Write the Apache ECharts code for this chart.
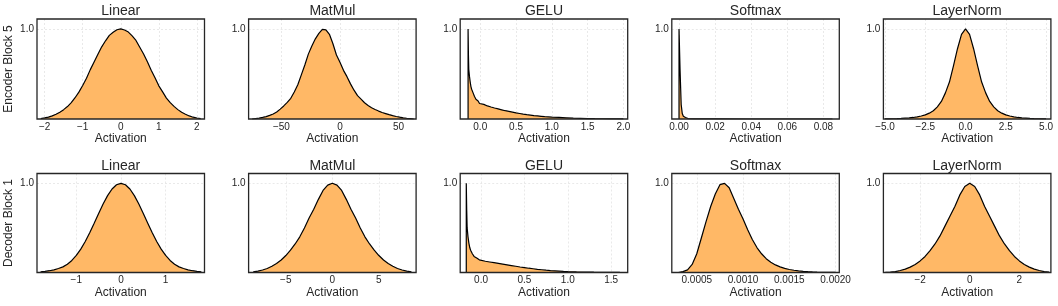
<!DOCTYPE html>
<html><head><meta charset="utf-8">
<script src="https://cdn.jsdelivr.net/npm/echarts@6/dist/echarts.min.js"></script>
<style>html,body{margin:0;padding:0;background:#fff}#c{width:1058px;height:306px}</style>
</head><body><div id="c"></div>
<script>
// ---------------- DATA ----------------
const rowLabels = ['Encoder Block 5', 'Decoder Block 1'];
const layerNames = ['Linear', 'MatMul', 'GELU', 'Softmax', 'LayerNorm'];
const xAxisName = 'Activation';
const yTickValues = [1];

// Encoder Block 5 — Linear (normalized histogram heights at bin centers)
const encLinearStart = -2.1, encLinearStep = 0.1;
const encLinearHeights = [0.005,0.012,0.021,0.035,0.052,0.076,0.104,0.138,0.182,0.236,0.298,0.372,0.452,0.548,0.632,0.718,0.801,0.868,0.928,0.962,0.991,1.0,0.988,0.965,0.922,0.872,0.796,0.722,0.636,0.542,0.458,0.368,0.301,0.232,0.181,0.14,0.104,0.074,0.053,0.034,0.02,0.011,0.004];
const encLinearTicks = [-2, -1, 0, 1, 2];

// Encoder Block 5 — MatMul
const encMatmulStart = -75, encMatmulStep = 3;
const encMatmulHeights = [0.0,0.005,0.01,0.018,0.027,0.04,0.056,0.078,0.11,0.145,0.185,0.23,0.30,0.38,0.49,0.60,0.72,0.81,0.89,0.95,0.995,0.99,0.94,0.835,0.71,0.63,0.54,0.47,0.39,0.32,0.26,0.22,0.18,0.15,0.125,0.105,0.088,0.072,0.06,0.048,0.037,0.028,0.02,0.013,0.008,0.004,0.0];
const encMatmulTicks = [-50, 0, 50];

// Encoder Block 5 — GELU (bin edges + heights)
const encGeluEdges = [-0.17,-0.165,-0.16,-0.15,-0.14,-0.13,-0.12,-0.11,-0.10,-0.09,-0.08,-0.07,-0.06,-0.05,-0.04,-0.03,-0.02,-0.01,0.00,0.05,0.10,0.15,0.20,0.25,0.30,0.35,0.40,0.45,0.50,0.55,0.60,0.65,0.70,0.75,0.80,0.85,0.90,0.95,1.00,1.10,1.20,1.30,1.40,1.50,1.60,1.70,1.80,1.90,2.00];
const encGeluHeights = [1.0,0.71,0.55,0.47,0.41,0.36,0.33,0.31,0.29,0.27,0.25,0.235,0.22,0.21,0.20,0.19,0.18,0.172,0.162,0.145,0.133,0.122,0.112,0.102,0.092,0.084,0.076,0.068,0.061,0.054,0.048,0.043,0.038,0.034,0.030,0.026,0.023,0.020,0.017,0.013,0.009,0.007,0.005,0.0035,0.0025,0.0018,0.0012,0.0008];
const encGeluTicks = [0.0, 0.5, 1.0, 1.5, 2.0];

// Encoder Block 5 — Softmax (bin edges + heights)
const encSoftmaxEdges = [0,0.0006,0.0012,0.0018,0.0024,0.003,0.0036,0.0042,0.005,0.006,0.008,0.012,0.02,0.04,0.085];
const encSoftmaxHeights = [1.0,0.53,0.16,0.06,0.03,0.016,0.009,0.005,0.003,0.0015,0.0008,0.0004,0.0002,0.0001];
const encSoftmaxTicks = [0.00, 0.02, 0.04, 0.06, 0.08];

// Encoder Block 5 — LayerNorm
const encLayernormStart = -5.0, encLayernormStep = 0.25;
const encLayernormHeights = [0.001,0.002,0.003,0.004,0.006,0.009,0.012,0.017,0.024,0.033,0.046,0.065,0.092,0.135,0.195,0.29,0.41,0.59,0.78,0.94,1.0,0.94,0.78,0.59,0.41,0.29,0.195,0.135,0.092,0.065,0.046,0.033,0.024,0.017,0.012,0.009,0.006,0.004,0.003,0.002,0.001];
const encLayernormTicks = [-5.0, -2.5, 0.0, 2.5, 5.0];

// Decoder Block 1 — Linear
const decLinearStart = -1.8, decLinearStep = 0.1;
const decLinearHeights = [0.006,0.012,0.02,0.03,0.045,0.063,0.093,0.135,0.191,0.262,0.347,0.445,0.552,0.661,0.768,0.862,0.936,0.984,1.0,0.984,0.936,0.862,0.768,0.661,0.552,0.445,0.347,0.262,0.191,0.135,0.093,0.063,0.045,0.03,0.02,0.012,0.006];
const decLinearTicks = [-1, 0, 1];

// Decoder Block 1 — MatMul
const decMatmulStart = -8.5, decMatmulStep = 0.5;
const decMatmulHeights = [0.006,0.015,0.028,0.045,0.07,0.10,0.14,0.19,0.25,0.32,0.40,0.50,0.61,0.71,0.82,0.92,0.98,1.0,0.98,0.92,0.82,0.71,0.61,0.50,0.40,0.32,0.25,0.19,0.14,0.10,0.07,0.045,0.028,0.015,0.006];
const decMatmulTicks = [-5, 0, 5];

// Decoder Block 1 — GELU (bin edges + heights)
const decGeluEdges = [-0.17,-0.165,-0.16,-0.15,-0.14,-0.13,-0.12,-0.11,-0.10,-0.09,-0.08,-0.07,-0.06,-0.05,-0.04,-0.03,-0.02,-0.01,0.00,0.05,0.10,0.15,0.20,0.25,0.30,0.35,0.40,0.45,0.50,0.55,0.60,0.65,0.70,0.75,0.80,0.85,0.90,0.95,1.00,1.10,1.20,1.30,1.40,1.50,1.60];
const decGeluHeights = [1.0,0.70,0.50,0.40,0.33,0.28,0.25,0.23,0.21,0.195,0.18,0.17,0.162,0.155,0.148,0.142,0.137,0.132,0.126,0.118,0.11,0.102,0.094,0.086,0.078,0.07,0.062,0.055,0.048,0.042,0.036,0.031,0.026,0.022,0.019,0.016,0.013,0.011,0.008,0.0055,0.0035,0.002,0.0012,0.0006];
const decGeluTicks = [0.0, 0.5, 1.0, 1.5];

// Decoder Block 1 — Softmax
const decSoftmaxStart = 0.0003, decSoftmaxStep = 0.00005;
const decSoftmaxHeights = [0.0,0.01,0.03,0.09,0.21,0.39,0.57,0.74,0.88,0.985,1.0,0.95,0.83,0.71,0.60,0.48,0.37,0.28,0.21,0.155,0.115,0.085,0.063,0.046,0.034,0.025,0.018,0.013,0.009,0.006,0.004,0.003,0.002,0.001,0.0005];
const decSoftmaxTicks = [0.0005, 0.0010, 0.0015, 0.0020];

// Decoder Block 1 — LayerNorm
const decLayernormStart = -3.4, decLayernormStep = 0.2;
const decLayernormHeights = [0.001,0.004,0.01,0.022,0.038,0.06,0.09,0.13,0.18,0.245,0.32,0.41,0.52,0.63,0.74,0.87,0.965,1.0,0.965,0.87,0.74,0.63,0.52,0.41,0.32,0.245,0.18,0.13,0.09,0.06,0.038,0.022,0.01,0.004];
const decLayernormTicks = [-2, 0, 2];

// ---------------- CHART ----------------
const FONT = 'Liberation Sans, Arial, sans-serif';
const TXT = '#262626';

function centersToPoints(start, step, heights) {
  return heights.map((h, i) => [start + i * step, h]);
}
function edgesToPoints(edges, heights) {
  const pts = [[edges[0], 0]];
  heights.forEach((h, i) => { pts.push([edges[i], h]); pts.push([edges[i + 1], h]); });
  pts.push([edges[edges.length - 1], 0]);
  return pts;
}

const panels = [
  {row:0, col:0, xmin:-2.2,   xmax:2.2,    ticks:encLinearTicks,    dec:0, data:centersToPoints(encLinearStart, encLinearStep, encLinearHeights)},
  {row:0, col:1, xmin:-78,    xmax:65,     ticks:encMatmulTicks,    dec:0, data:centersToPoints(encMatmulStart, encMatmulStep, encMatmulHeights)},
  {row:0, col:2, xmin:-0.28,  xmax:2.06,   ticks:encGeluTicks,      dec:1, data:edgesToPoints(encGeluEdges, encGeluHeights)},
  {row:0, col:3, xmin:-0.004, xmax:0.0888, ticks:encSoftmaxTicks,   dec:2, data:edgesToPoints(encSoftmaxEdges, encSoftmaxHeights)},
  {row:0, col:4, xmin:-5.1,   xmax:5.3,    ticks:encLayernormTicks, dec:1, data:centersToPoints(encLayernormStart, encLayernormStep, encLayernormHeights)},
  {row:1, col:0, xmin:-1.88,  xmax:1.87,   ticks:decLinearTicks,    dec:0, data:centersToPoints(decLinearStart, decLinearStep, decLinearHeights)},
  {row:1, col:1, xmin:-9.0,   xmax:9.0,    ticks:decMatmulTicks,    dec:0, data:centersToPoints(decMatmulStart, decMatmulStep, decMatmulHeights)},
  {row:1, col:2, xmin:-0.24,  xmax:1.69,   ticks:decGeluTicks,      dec:1, data:edgesToPoints(decGeluEdges, decGeluHeights)},
  {row:1, col:3, xmin:0.00023,xmax:0.00204,ticks:decSoftmaxTicks,   dec:4, data:centersToPoints(decSoftmaxStart, decSoftmaxStep, decSoftmaxHeights)},
  {row:1, col:4, xmin:-3.48,  xmax:3.27,   ticks:decLayernormTicks, dec:0, data:centersToPoints(decLayernormStart, decLayernormStep, decLayernormHeights)}
];

const GRID_LEFT0 = 37, GRID_DX = 211.6, GRID_W = 167.5;
const ROW_TOP = [19, 173.5], ROW_H = [100, 99];
const TITLE_TOP = [4.3, 158.8];

function fmt(v, dec) {
  if (Math.abs(v) < 1e-12) return (0).toFixed(dec);
  return v < 0 ? '\u2212' + (-v).toFixed(dec) : v.toFixed(dec);
}

const grids = [], xAxes = [], yAxes = [], series = [], titles = [];
const gridLine = {show: true, lineStyle: {color: '#e4e4e4', type: [2, 2], width: 0.8}};
panels.forEach((p, i) => {
  const left = GRID_LEFT0 + p.col * GRID_DX;
  grids.push({show: true, z: 5, left: left, top: ROW_TOP[p.row], width: GRID_W, height: ROW_H[p.row],
    borderColor: '#262626', borderWidth: 1.3, backgroundColor: 'transparent'});
  xAxes.push({gridIndex: i, type: 'value', min: p.xmin, max: p.xmax,
    axisLine: {show: false}, axisTick: {show: false, customValues: p.ticks},
    axisLabel: {customValues: p.ticks, formatter: v => fmt(v, p.dec), margin: 3, fontSize: 10, color: TXT, fontFamily: FONT},
    splitLine: gridLine,
    name: xAxisName, nameLocation: 'middle', nameGap: 14,
    nameTextStyle: {fontSize: 12, color: TXT, fontFamily: FONT}});
  yAxes.push({gridIndex: i, type: 'value', min: 0, max: 1.11,
    axisLine: {show: false}, axisTick: {show: false, customValues: yTickValues},
    axisLabel: {customValues: yTickValues, formatter: v => v.toFixed(1), margin: 3, fontSize: 10, color: TXT, fontFamily: FONT},
    splitLine: gridLine});
  series.push({type: 'line', xAxisIndex: i, yAxisIndex: i, data: p.data, showSymbol: false, symbol: 'none',
    lineStyle: {color: '#000', width: 1.2}, areaStyle: {color: '#ffb866', opacity: 1}, silent: true, z: 2});
  titles.push({text: layerNames[p.col], left: left + GRID_W / 2, top: TITLE_TOP[p.row], textAlign: 'center', padding: 0,
    textStyle: {fontSize: 14, fontWeight: 'normal', color: TXT, fontFamily: FONT}});
});

const graphics = rowLabels.map((t, r) => ({
  type: 'text', x: 9, y: ROW_TOP[r] + ROW_H[r] / 2, rotation: Math.PI / 2,
  style: {text: t, fontSize: 12, fill: TXT, fontFamily: FONT, textAlign: 'center', textVerticalAlign: 'middle'}
}));

const chart = echarts.init(document.getElementById('c'), null, {renderer: 'canvas'});
chart.setOption({
  animation: false,
  backgroundColor: '#fff',
  textStyle: {fontFamily: FONT},
  title: titles, grid: grids, xAxis: xAxes, yAxis: yAxes, series: series, graphic: graphics
});
</script></body></html>
